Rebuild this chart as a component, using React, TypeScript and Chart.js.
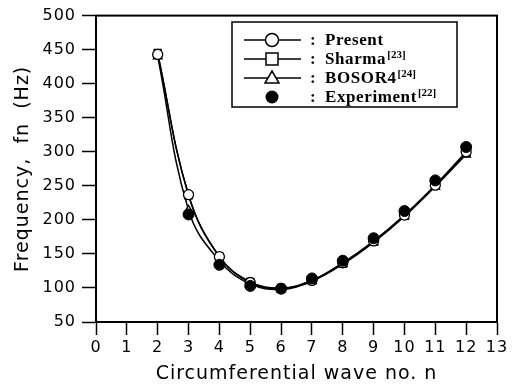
import React, { useEffect, useRef } from 'react';
import { Chart, registerables } from 'chart.js';

Chart.register(...registerables);

const waveNumbers = [2, 3, 4, 5, 6, 7, 8, 9, 10, 11, 12];
const presentHz = [443, 237, 146, 108, 99, 111, 137, 169, 207, 251, 300];
const sharmaHz = [445, 236, 146, 109, 100, 111, 136, 168, 206, 250, 298];
const bosorHz = [440, 214, 140, 106, 98, 110, 135, 167, 205, 249, 296];
const experimentN = [3, 4, 5, 6, 7, 8, 9, 10, 11, 12];
const experimentHz = [208, 134, 103, 99, 114, 140, 173, 213, 258, 307];

const legendLabels = ['Present', 'Sharma', 'BOSOR4', 'Experiment'];
const legendRefs = ['', '[23]', '[24]', '[22]'];

const toPoints = (xs: number[], ys: number[]) => xs.map((x, i) => ({ x, y: ys[i] }));

const spacingPlugin = {
  id: 'spacing',
  beforeDraw(chart: any) {
    chart.ctx.letterSpacing = '1px';
  },
  afterDraw(chart: any) {
    chart.ctx.letterSpacing = '0px';
  },
};

const framePlugin = {
  id: 'frame',
  afterDraw(chart: any) {
    const { ctx, chartArea } = chart;
    ctx.save();
    ctx.strokeStyle = '#000';
    ctx.lineWidth = 2;
    ctx.strokeRect(chartArea.left, chartArea.top, chartArea.right - chartArea.left, chartArea.bottom - chartArea.top);
    ctx.restore();
  },
};

const legendPlugin = {
  id: 'customLegend',
  afterDraw(chart: any) {
    const { ctx } = chart;
    const boxL = 232, boxT = 22, boxR = 457, boxB = 107;
    ctx.save();
    ctx.letterSpacing = '0px';
    ctx.fillStyle = '#fff';
    ctx.fillRect(boxL, boxT, boxR - boxL, boxB - boxT);
    ctx.strokeStyle = '#000';
    ctx.lineWidth = 1.5;
    ctx.strokeRect(boxL, boxT, boxR - boxL, boxB - boxT);
    const rows = [40, 59, 78, 97];
    const mx = 272;
    legendLabels.forEach((label, i) => {
      const y = rows[i];
      ctx.strokeStyle = '#000';
      ctx.lineWidth = 1.5;
      if (i < 3) {
        ctx.beginPath();
        ctx.moveTo(244, y);
        ctx.lineTo(301, y);
        ctx.stroke();
      }
      ctx.fillStyle = '#fff';
      ctx.beginPath();
      if (i === 0) {
        ctx.arc(mx, y, 6.5, 0, Math.PI * 2);
        ctx.fill();
        ctx.stroke();
      } else if (i === 1) {
        ctx.rect(mx - 6, y - 6, 12, 12);
        ctx.fill();
        ctx.stroke();
      } else if (i === 2) {
        ctx.moveTo(mx, y - 7);
        ctx.lineTo(mx + 7, y + 5);
        ctx.lineTo(mx - 7, y + 5);
        ctx.closePath();
        ctx.fill();
        ctx.stroke();
      } else {
        ctx.fillStyle = '#000';
        ctx.arc(mx, y, 6.5, 0, Math.PI * 2);
        ctx.fill();
      }
      ctx.fillStyle = '#000';
      ctx.textBaseline = 'middle';
      ctx.textAlign = 'left';
      ctx.font = 'bold 17px "Liberation Serif"';
      ctx.fillText(':', 310, y + 1);
      ctx.letterSpacing = '0.6px';
      ctx.fillText(label, 325, y + 1);
      const w = ctx.measureText(label).width;
      ctx.letterSpacing = '0px';
      if (legendRefs[i]) {
        ctx.font = 'bold 11px "Liberation Serif"';
        ctx.fillText(legendRefs[i], 325 + w + 1, y - 4);
      }
    });
    ctx.restore();
  },
};

export default function App() {
  const ref = useRef<HTMLCanvasElement>(null);
  useEffect(() => {
    document.body.style.margin = '0';
    const lineDs = (label: string, ys: number[], style: string) => ({
      label,
      data: toPoints(waveNumbers, ys),
      borderColor: '#000',
      borderWidth: 1.5,
      backgroundColor: '#fff',
      pointStyle: style,
      pointRadius: 5,
      pointBorderWidth: 1.3,
      pointBorderColor: '#000',
      pointBackgroundColor: '#fff',
      tension: 0.4,
      showLine: true,
      fill: false,
    });
    const chart = new Chart(ref.current!, {
      type: 'scatter',
      data: {
        datasets: [
          {
            label: 'Experiment',
            data: toPoints(experimentN, experimentHz),
            pointStyle: 'circle',
            pointRadius: 5.5,
            pointBackgroundColor: '#000',
            pointBorderColor: '#000',
            backgroundColor: '#000',
            borderColor: '#000',
            showLine: false,
          },
          lineDs('Present', presentHz, 'circle'),
          lineDs('Sharma', sharmaHz, 'rect'),
          lineDs('BOSOR4', bosorHz, 'triangle'),
        ],
      },
      options: {
        animation: false,
        responsive: false,
        maintainAspectRatio: false,
        layout: { padding: { left: 0, top: 10, right: 17, bottom: 0 } },
        plugins: { legend: { display: false }, tooltip: { enabled: false } },
        scales: {
          x: {
            type: 'linear',
            min: 0,
            max: 13,
            afterFit: (s: any) => { s.height = 65; },
            ticks: { stepSize: 1, color: '#000', font: { family: 'DejaVu Sans', size: 16 }, padding: 3 },
            grid: { display: true, drawOnChartArea: false, drawTicks: true, tickLength: 13, tickColor: '#000', tickWidth: 1.5 },
            border: { display: true, color: '#000', width: 2 },
            title: { display: true, text: 'Circumferential wave no. n', color: '#000', font: { family: 'DejaVu Sans', size: 19 }, padding: { top: 0, bottom: 2 } },
          },
          y: {
            type: 'linear',
            min: 50,
            max: 500,
            afterFit: (s: any) => { s.width = 96; },
            ticks: { stepSize: 50, color: '#000', font: { family: 'DejaVu Sans', size: 16 }, padding: 6 },
            grid: { display: true, drawOnChartArea: false, drawTicks: true, tickLength: 14, tickColor: '#000', tickWidth: 1.5 },
            border: { display: true, color: '#000', width: 2 },
            title: { display: true, text: 'Frequency,  fn  (Hz)', color: '#000', font: { family: 'DejaVu Sans', size: 19 }, padding: { top: 12, bottom: 0 } },
          },
        },
      },
      plugins: [spacingPlugin, framePlugin, legendPlugin],
    });
    return () => chart.destroy();
  }, []);
  return (
    <div style={{ width: 514, height: 387 }}>
      <canvas ref={ref} width={514} height={387} />
    </div>
  );
}
